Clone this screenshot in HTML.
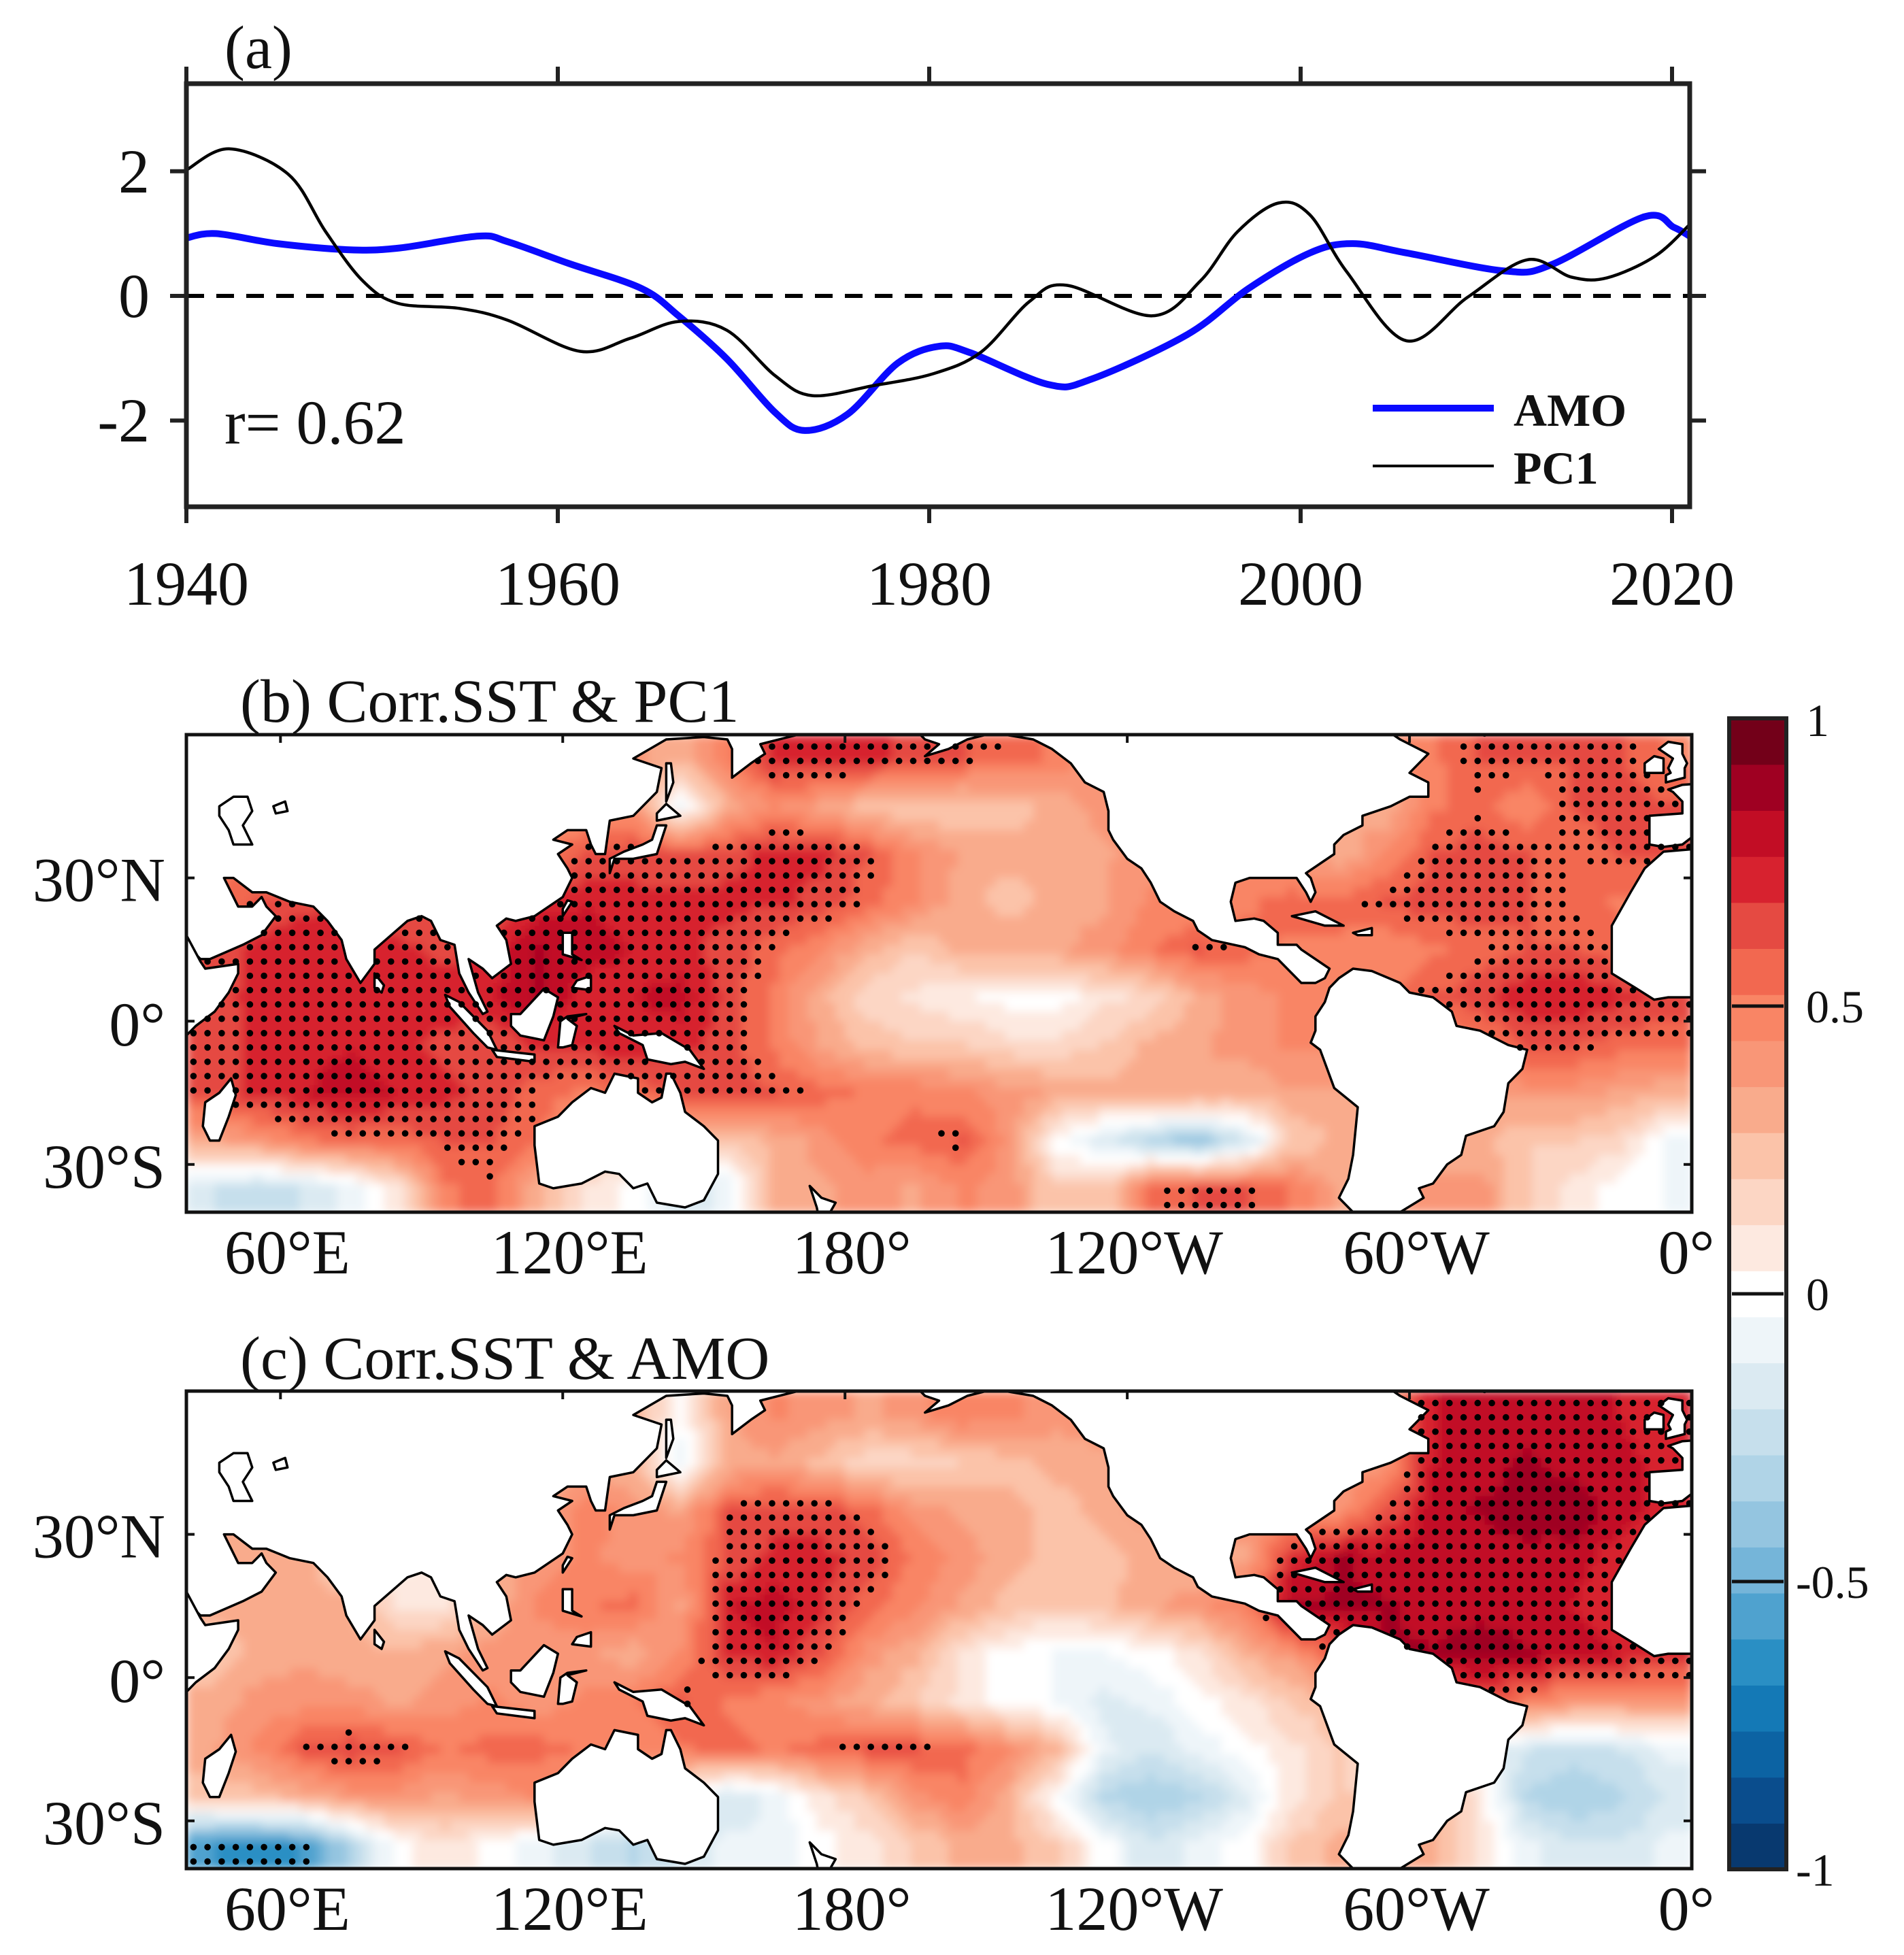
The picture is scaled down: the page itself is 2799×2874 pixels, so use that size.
<!DOCTYPE html>
<html><head><meta charset="utf-8"><style>
html,body{margin:0;padding:0;background:#fff}
svg{display:block}
text{font-family:"Liberation Serif",serif;fill:#111}
</style></head><body>
<svg id="fig" xmlns="http://www.w3.org/2000/svg" width="2799" height="2874" viewBox="0 0 2799 2874">
<defs>
<clipPath id="clipA"><rect x="274" y="123" width="2210" height="622"/></clipPath>
<clipPath id="clipB"><rect x="274" y="1080" width="2213" height="702"/></clipPath>
<clipPath id="clipC"><rect x="274" y="2045" width="2213" height="702"/></clipPath>
<filter id="soft" x="0" y="0" width="1" height="1"><feGaussianBlur stdDeviation="7" edgeMode="duplicate"/></filter>
</defs>
<g id="panelA"></g>
<g id="panelB" clip-path="url(#clipB)"></g>
<g id="panelC" clip-path="url(#clipC)"></g>
<g id="overlay"></g>
<g id="cbar"></g>
</svg>
<script>
// ---------- Panel (a) data ----------
const pc1Years=[1940,1942.3,1945.5,1947.5,1949.5,1951.4,1954.7,1957.3,1961.2,1963.9,1966.5,1969.1,1971.7,1973.7,1977,1980.2,1982.8,1985.4,1987.4,1992,1994.6,1996.6,1998.8,2000.5,2002.5,2005.7,2009,2012.2,2014.6,2016.5,2019.1,2021];
const pc1Values=[2.02,2.36,1.95,1.03,0.24,-0.12,-0.2,-0.39,-0.89,-0.68,-0.41,-0.55,-1.28,-1.6,-1.44,-1.25,-0.9,-0.09,0.17,-0.32,0.24,1.03,1.49,1.3,0.38,-0.72,-0.02,0.58,0.3,0.29,0.64,1.16];
const amoYears=[1940,1941.6,1944.9,1948.8,1951.5,1955.7,1957.3,1960.6,1964.5,1966.5,1969.1,1971.7,1973.3,1975.6,1978.3,1980.5,1982.2,1986.4,1988.7,1993.9,1997.2,2000.5,2002.8,2005.7,2011,2013.5,2018.5,2020.1,2021];
const amoValues=[0.93,1.0,0.84,0.74,0.77,0.96,0.87,0.52,0.12,-0.32,-1.01,-1.87,-2.16,-1.9,-1.08,-0.81,-0.91,-1.42,-1.34,-0.62,0.12,0.69,0.84,0.69,0.4,0.5,1.27,1.1,0.95];
const xTickYears=[1940,1960,1980,2000,2020];
const yTickValues=[-2,0,2];
const yTickLabels=["-2","0","2"];

// ---------- Maps data (rows: lat 55..-35, cols: lon 45..355 every 10) ----------
const gridLats=[55,45,35,25,15,5,-5,-15,-25,-35];
const gridLons=[45,55,65,75,85,95,105,115,125,135,145,155,165,175,185,195,205,215,225,235,245,255,265,275,285,295,305,315,325,335,345,355];
const corrPC1=[
[0.4,0.4,0.4,0.4,0.4,0.4,0.4,0.4,0.4,0.4,0.3,0.5,0.7,0.75,0.7,0.65,0.6,0.55,0.5,0.4,0.4,0.4,0.4,0.4,0.4,0.4,0.5,0.6,0.6,0.6,0.6,0.5],
[0.4,0.4,0.4,0.4,0.4,0.4,0.4,0.4,0.4,0.4,-0.05,0.3,0.45,0.35,0.25,0.2,0.2,0.25,0.3,0.4,0.4,0.4,0.4,0.4,0.4,0.3,0.5,0.55,0.45,0.6,0.65,0.6],
[0.5,0.5,0.5,0.5,0.5,0.5,0.5,0.5,0.6,0.65,0.6,0.65,0.7,0.7,0.6,0.45,0.35,0.3,0.3,0.35,0.4,0.4,0.4,0.4,0.3,0.45,0.6,0.65,0.6,0.55,0.6,0.6],
[0.5,0.6,0.65,0.7,0.6,0.6,0.6,0.7,0.75,0.7,0.7,0.7,0.7,0.65,0.55,0.45,0.3,0.25,0.3,0.35,0.45,0.45,0.5,0.55,0.55,0.6,0.65,0.65,0.6,0.55,0.5,0.5],
[0.6,0.7,0.75,0.7,0.7,0.65,0.7,0.85,0.8,0.75,0.7,0.65,0.55,0.45,0.3,0.2,0.3,0.35,0.35,0.4,0.5,0.6,0.55,0.5,0.5,0.45,0.5,0.55,0.6,0.6,0.55,0.5],
[0.65,0.7,0.75,0.75,0.7,0.75,0.75,0.85,0.7,0.75,0.8,0.65,0.5,0.3,0.15,0.1,0.05,0.0,0.0,0.1,0.15,0.3,0.4,0.45,0.5,0.5,0.6,0.65,0.75,0.75,0.7,0.65],
[0.6,0.7,0.75,0.75,0.7,0.65,0.6,0.7,0.7,0.75,0.7,0.65,0.5,0.35,0.25,0.2,0.2,0.15,0.15,0.2,0.3,0.35,0.4,0.45,0.45,0.4,0.4,0.5,0.6,0.6,0.55,0.55],
[0.6,0.7,0.75,0.8,0.75,0.7,0.65,0.55,0.5,0.55,0.6,0.65,0.6,0.55,0.5,0.5,0.45,0.4,0.35,0.3,0.35,0.35,0.3,0.35,0.35,0.35,0.35,0.35,0.4,0.4,0.35,0.3],
[0.35,0.4,0.5,0.55,0.55,0.6,0.6,0.55,0.3,0.3,0.3,0.2,0.3,0.4,0.5,0.55,0.6,0.4,0.0,-0.15,-0.3,-0.4,-0.2,0.2,0.3,0.3,0.3,0.3,0.2,0.2,0.15,-0.05],
[-0.2,-0.25,-0.2,-0.1,0.1,0.5,0.55,0.3,0.1,0.0,-0.2,-0.1,0.3,0.35,0.4,0.35,0.45,0.4,0.2,0.2,0.55,0.6,0.6,0.5,0.35,0.3,0.4,0.4,0.2,0.1,0.0,-0.05]];
const corrAMO=[
[0.3,0.3,0.3,0.3,0.3,0.3,0.3,0.3,0.3,0.3,0.0,0.35,0.45,0.4,0.35,0.4,0.5,0.45,0.4,0.4,0.4,0.4,0.4,0.4,0.4,0.4,0.75,0.8,0.8,0.8,0.75,0.7],
[0.3,0.3,0.3,0.3,0.3,0.3,0.3,0.3,0.3,0.3,-0.1,0.3,0.35,0.25,0.15,0.15,0.2,0.25,0.3,0.35,0.4,0.4,0.4,0.4,0.4,0.4,0.75,0.8,0.85,0.8,0.8,0.7],
[0.3,0.3,0.3,0.3,0.3,0.3,0.3,0.3,0.5,0.4,0.35,0.6,0.65,0.65,0.55,0.4,0.35,0.3,0.25,0.3,0.4,0.4,0.4,0.4,0.4,0.6,0.8,0.85,0.9,0.9,0.8,0.7],
[0.3,0.35,0.3,0.2,0.0,0.1,0.3,0.4,0.45,0.4,0.45,0.6,0.7,0.7,0.65,0.5,0.4,0.3,0.25,0.25,0.3,0.3,0.35,0.7,0.85,0.8,0.8,0.8,0.8,0.8,0.7,0.6],
[0.3,0.35,0.3,0.3,0.1,0.1,0.3,0.45,0.5,0.55,0.35,0.75,0.8,0.7,0.55,0.45,0.35,0.25,0.2,0.25,0.35,0.4,0.5,0.85,0.85,0.85,0.8,0.8,0.8,0.75,0.7,0.65],
[0.2,0.3,0.35,0.3,0.3,0.35,0.4,0.4,0.4,0.3,0.45,0.7,0.75,0.6,0.4,0.3,0.1,0.0,-0.05,-0.05,0.0,0.1,0.3,0.4,0.6,0.85,0.85,0.9,0.85,0.8,0.75,0.7],
[0.3,0.4,0.4,0.4,0.35,0.4,0.45,0.4,0.45,0.5,0.6,0.5,0.45,0.4,0.3,0.2,0.1,0.0,-0.05,-0.15,-0.1,0.0,0.1,0.2,0.3,0.4,0.5,0.6,0.5,0.4,0.4,0.4],
[0.35,0.45,0.6,0.65,0.6,0.5,0.55,0.55,0.5,0.45,0.5,0.55,0.5,0.55,0.6,0.6,0.55,0.45,0.3,-0.1,-0.2,-0.1,0.0,0.1,0.2,0.1,0.0,-0.1,-0.2,-0.25,-0.2,-0.1],
[0.2,0.25,0.3,0.4,0.4,0.35,0.4,0.45,0.3,0.2,0.0,-0.2,-0.1,0.1,0.2,0.4,0.5,0.3,0.0,-0.3,-0.35,-0.3,-0.15,0.1,0.2,0.2,0.3,0.1,-0.3,-0.35,-0.3,-0.2],
[-0.6,-0.65,-0.6,-0.3,0.0,0.1,0.0,-0.1,-0.2,-0.3,-0.2,-0.1,-0.1,0.0,0.1,0.2,0.3,0.3,0.2,0.0,-0.2,-0.1,0.0,0.2,0.3,0.3,0.3,0.1,-0.1,-0.2,-0.2,-0.1]];
const lonTickValues=[60,120,180,240,300,360];
const lonTickLabels=["60°E","120°E","180°","120°W","60°W","0°"];
const latTickValues=[30,0,-30];
const latTickLabels=["30°N","0°","30°S"];
const cbarLabels=["1","0.5","0","-0.5","-1"];
const cbarLabelValues=[1,0.5,0,-0.5,-1];

// land polygons [lon,lat]
const landPolys={
eurasia:[[40,16],[43,13],[45,13],[52,16],[56,18],[59,22],[57,24],[56,26],[54,24],[51,24],[50,26],[48,30],[50,30],[54,27],[57,27],[62,25],[67,24],[70,21],[73,17],[74,13],[77,8],[80,12],[80,15],[87,21],[90,22],[92,21],[94,17],[97,16],[98,10],[99,8],[100,6],[103,1.5],[104,2],[102,6],[100,13],[103,11],[105,9],[109,12],[108,17],[106,20],[108,21.5],[110,21],[114,22],[120,26],[122,30],[121,32],[119,35],[122,37],[118,38],[121,40],[125,40],[126,37],[127,35],[129,35],[130,42],[135,43],[140,48],[141,53],[138,54],[135,55],[142,59],[150,59.5],[155,59],[156,57],[156,51],[160,54],[163,56],[162,58],[170,60],[180,65],[40,65]],
horn:[[40,18],[43,12.5],[44,11],[51,12],[51,10],[49,6],[46,2],[42,-1],[40,-3]],
madagascar:[[49.5,-12],[50.5,-15.5],[49,-20],[47,-25],[45,-25],[43.5,-22],[44,-17],[47,-15]],
srilanka:[[80,10],[82,7.5],[81.5,6],[80,7]],
honshu:[[130,31],[131,34],[135,34],[140,35],[141,38],[142,41],[140,41],[139,38],[137,37],[133,35.5],[130,34]],
hokkaido:[[140,42],[145,43],[142,45.5],[140,43.5]],
sakhalin:[[142,46],[143.5,50],[143,54],[142,54],[142,48]],
taiwan:[[120,22],[122,25],[121,25.3],[120,23.5]],
luzon:[[120,18.5],[122,18.5],[122,14],[124,12.8],[120,14]],
mindanao:[[122,7],[126,6.5],[126,9.5],[123,8.5]],
borneo:[[109,1.5],[111,1.5],[116,6.8],[119,5],[118,1],[116,-4],[111,-3],[109,-1]],
sumatra:[[95,5.5],[98,4],[104,-2],[106,-6],[104,-5.5],[101,-2.5],[96,3]],
java:[[105,-6],[114,-7],[114,-8.5],[106,-7.5]],
sulawesi:[[119,-5.5],[119.5,0],[121,1],[125,1.5],[121,0.5],[123,-1],[122,-5],[120,-5.5]],
newguinea:[[131,-1],[135,-3],[141,-2.5],[147,-6],[150,-10],[146,-8.5],[143,-9],[138,-8],[137,-5],[132,-2.5]],
australia:[[114,-22],[114,-26],[115,-34],[118,-35],[124,-34],[129,-31.5],[132,-32],[135,-35],[138,-34],[140,-38],[146,-39],[150,-37.5],[153,-32],[153,-25],[150,-22],[146,-19],[145,-15],[143,-11],[142,-11],[141,-16],[139,-17],[136,-15],[136,-12],[131,-11],[129,-15],[126,-14],[122,-17],[119,-20]],
newzealand:[[172.5,-34.5],[175,-37],[178,-38],[176,-41.5],[174.5,-41.5],[174,-39]],
namerica:[[190,65],[195,61],[197,59],[200,58],[197,55.5],[202,57],[206,59],[210,60],[214,60],[220,59],[224,57],[228,54],[231,50],[235,48],[236,44],[236,40],[237,38],[240,34],[243,32],[245,29],[247,25],[250,23],[254,21],[255,19],[258,17],[265,15.5],[268,14],[272,13],[275,10],[277,8],[280,8],[282,9],[283,11],[277,15],[276,16],[272,16],[272,18.5],[269,21],[267,21.5],[263,21],[262,25],[263,29],[266,30],[271,30],[276,30],[278,27],[279,25],[280,27],[279,30],[278,31],[281,33],[284,35],[284,37],[286,39],[290,41],[290,43],[293,44],[296,45],[300,47],[304,47],[304,50],[300,52],[304,56],[298,59],[295,61],[300,65]],
greenland:[[312,65],[311,61],[316,59.8],[318,61],[322,65]],
cuba:[[275,22],[282,20],[286,20],[280,23]],
hispaniola:[[288,18.5],[292,19.5],[292,18],[289,18]],
samerica:[[290,-45],[288,-40],[285,-37],[287,-33],[288,-28],[289,-18],[284,-14],[281,-6],[279,-4.5],[280,-2],[280,1],[282,4],[283,7],[285,9],[288,11],[292,10.5],[298,8],[300,6],[305,5],[309,2],[310,-1],[315,-2],[321,-5],[325,-6],[324,-10],[321,-13],[320,-19],[318,-22],[312,-24],[311,-28],[308,-30],[305,-34],[302,-35],[303,-37],[298,-40],[295,-45]],
africa:[[365,3],[360,5],[355,5],[352,4.5],[348,7],[343,10],[343,14.5],[343,20],[347,27],[350,32],[354,35.5],[360,36],[365,36]],
iberia:[[365,38.5],[360,38.5],[358,37],[354,36.5],[351,37],[351,43],[358,43.5],[358,46],[356,48],[355,48.5],[358,49.5],[365,50]],
britain:[[354.5,50],[358.5,51],[358.5,53],[359,54],[358,56],[358,58],[355,58.5],[353,57],[356,55],[355,53],[355.5,52],[354.5,51.5]],
ireland:[[350,52],[354,52],[354,55],[352,55.5],[350,54]],
norway:[[355,65],[355,62],[360,60],[365,60],[365,65]]
};
const lakePolys={caspian:[[47,45],[50,47],[53,47],[54,44],[52,41],[54,37],[50,37],[49,40],[47,43]],aral:[[58.5,45],[61,46],[61.5,44],[59,43.5]]};

// ---------- helpers ----------
const NS="http://www.w3.org/2000/svg";
function mk(tag,attrs,parent){const e=document.createElementNS(NS,tag);for(const k in attrs)e.setAttribute(k,attrs[k]);parent.appendChild(e);return e;}

// Panel a scales
const A={x0:274,x1:2484,y0:123,y1:745,yr0:1940,yPerYear:27.3,yZero:435,yPerUnit:91.6};
function ax(year){return A.x0+(year-A.yr0)*A.yPerYear;}
function ay(v){return A.yZero-v*A.yPerUnit;}
function smoothPath(xs,ys){
  const p=xs.map((x,i)=>[x,ys[i]]);let d="M"+p[0][0].toFixed(1)+","+p[0][1].toFixed(1);
  for(let i=0;i<p.length-1;i++){const p0=p[i-1]||p[i],p1=p[i],p2=p[i+1],p3=p[i+2]||p2;
    const c1=[p1[0]+(p2[0]-p0[0])/6,p1[1]+(p2[1]-p0[1])/6],c2=[p2[0]-(p3[0]-p1[0])/6,p2[1]-(p3[1]-p1[1])/6];
    d+=" C"+c1[0].toFixed(1)+","+c1[1].toFixed(1)+" "+c2[0].toFixed(1)+","+c2[1].toFixed(1)+" "+p2[0].toFixed(1)+","+p2[1].toFixed(1);}
  return d;}

const pa=document.getElementById('panelA');
let zl=mk('line',{x1:A.x0,x2:A.x1,y1:ay(0),y2:ay(0),stroke:'#000','stroke-width':6,'stroke-dasharray':'26,18'},pa);


let gA=mk('g',{'clip-path':'url(#clipA)'},pa);
let amoPath=mk('path',{d:smoothPath(amoYears.map(ax),amoValues.map(ay)),fill:'none',stroke:'#0a0aff','stroke-width':10,'stroke-linejoin':'round'},gA);


let pcPath=mk('path',{d:smoothPath(pc1Years.map(ax),pc1Values.map(ay)),fill:'none',stroke:'#000','stroke-width':4.5},gA);


let frA=mk('rect',{x:A.x0,y:A.y0,width:A.x1-A.x0,height:A.y1-A.y0,fill:'none',stroke:'#222','stroke-width':7},pa);


xTickYears.forEach(yr=>{
  const x=ax(yr);
  mk('line',{x1:x,x2:x,y1:A.y0-25,y2:A.y0,stroke:'#222','stroke-width':6},pa);
  mk('line',{x1:x,x2:x,y1:A.y1,y2:A.y1+24,stroke:'#222','stroke-width':6},pa);
  const t=mk('text',{x:x,y:889,'font-size':92,'text-anchor':'middle'},pa);t.textContent=String(yr);
  
  
});
yTickValues.forEach((v,i)=>{
  const y=ay(v);
  mk('line',{x1:A.x0-24,x2:A.x0,y1:y,y2:y,stroke:'#222','stroke-width':6},pa);
  mk('line',{x1:A.x1,x2:A.x1+24,y1:y,y2:y,stroke:'#222','stroke-width':6},pa);
  const t=mk('text',{x:220,y:y+31,'font-size':92,'text-anchor':'end'},pa);t.textContent=yTickLabels[i];
  
  
});
let tA=mk('text',{x:330,y:100,'font-size':90},pa);tA.textContent='(a)';


let tR=mk('text',{x:330,y:652,'font-size':92},pa);tR.textContent='r= 0.62';


let lg=mk('g',{},pa);


mk('line',{x1:2018,x2:2196,y1:600,y2:600,stroke:'#0a0aff','stroke-width':10},lg);
let l1=mk('text',{x:2225,y:626,'font-size':68,'font-weight':'bold'},lg);l1.textContent='AMO';


mk('line',{x1:2018,x2:2196,y1:685,y2:685,stroke:'#000','stroke-width':4},lg);
let l2=mk('text',{x:2225,y:711,'font-size':68,'font-weight':'bold'},lg);l2.textContent='PC1';



// ---------- colormap ----------
const bandColors=['#08396f','#0a4d8d','#0c63a3','#1479b6','#2a8fc4','#4fa2cf','#75b5d9','#94c5e0','#b0d4e7','#c6dfec','#dbeaf2','#eef5f9','#ffffff','#fde9e0','#fcd6c4','#fbc3a9','#f9ab8c','#f99677','#f98565','#f26850','#e54a42','#d7222f','#c20d25','#9f0022','#730019'];
function colorOf(v){let k=Math.floor((v+1)/0.08);if(k<0)k=0;if(k>24)k=24;return bandColors[k];}

// ---------- map ----------
const M={x0:274,x1:2487,lon0:40,lon1:360,lat0:60,lat1:-40,h:702};
function mx(lon){return M.x0+(lon-M.lon0)*(M.x1-M.x0)/(M.lon1-M.lon0);}
function my(lat,top){return top+(M.lat0-lat)*M.h/(M.lat0-M.lat1);}
function sample(grid,lon,lat){
  let fi=(lon-gridLons[0])/10, fj=(gridLats[0]-lat)/10;
  fi=Math.max(0,Math.min(gridLons.length-1,fi)); fj=Math.max(0,Math.min(gridLats.length-1,fj));
  const i0=Math.floor(fi),j0=Math.floor(fj),i1=Math.min(i0+1,gridLons.length-1),j1=Math.min(j0+1,gridLats.length-1);
  const tx=fi-i0,ty=fj-j0;
  const a=grid[j0][i0]*(1-tx)+grid[j0][i1]*tx,b=grid[j1][i0]*(1-tx)+grid[j1][i1]*tx;
  return a*(1-ty)+b*ty;}
function inPoly(pt,poly){let c=false;for(let i=0,j=poly.length-1;i<poly.length;j=i++){const xi=poly[i][0],yi=poly[i][1],xj=poly[j][0],yj=poly[j][1];
  if(((yi>pt[1])!==(yj>pt[1]))&&(pt[0]<(xj-xi)*(pt[1]-yi)/(yj-yi)+xi))c=!c;}return c;}
function onLand(lon,lat){for(const k in landPolys){if(inPoly([lon,lat],landPolys[k]))return true;}return false;}
function drawMap(gid,grid,top,name){
  const g=document.getElementById(gid);
  const cells=mk('g',{'shape-rendering':'crispEdges',filter:'url(#soft)'},g);
  
  
  const step=2;
  for(let lat=60;lat>-40;lat-=step){for(let lon=40;lon<360;lon+=step){
    const v=sample(grid,lon+step/2,lat-step/2);
    const x=mx(lon),y=my(lat,top);
    mk('rect',{x:x.toFixed(1),y:y.toFixed(1),width:(mx(lon+step)-x+0.8).toFixed(1),height:(my(lat-step,top)-y+0.8).toFixed(1),fill:colorOf(v)},cells);
  }}
  const land=mk('g',{fill:'#fff',stroke:'#000','stroke-width':3.5,'stroke-linejoin':'round'},g);
  
  
  for(const k in landPolys){const p=mk('polygon',{points:landPolys[k].map(q=>mx(q[0]).toFixed(1)+','+my(q[1],top).toFixed(1)).join(' ')},land);
    
    }
  for(const k in lakePolys){const p=mk('polygon',{points:lakePolys[k].map(q=>mx(q[0]).toFixed(1)+','+my(q[1],top).toFixed(1)).join(' ')},land);
    
    }
  const dots=mk('g',{fill:'#000'},g);
  
  
  for(let lat=-38.5;lat<60;lat+=3){for(let lon=41.5;lon<360;lon+=3){
    const v=sample(grid,lon,lat);
    if(Math.abs(v)>=0.56&&!onLand(lon,lat)){mk('circle',{cx:mx(lon).toFixed(1),cy:my(lat,top).toFixed(1),r:4.8},dots);}
  }}
}
drawMap('panelB',corrPC1,1080,'map-b');
drawMap('panelC',corrAMO,2045,'map-c');

const ov=document.getElementById('overlay');
[[1080,1061,'(b) Corr.SST & PC1','panel-b-title'],[2045,2027,'(c) Corr.SST & AMO','panel-c-title']].forEach(([top,tb,title,nm])=>{
  const fr=mk('rect',{x:M.x0,y:top,width:M.x1-M.x0,height:M.h,fill:'none',stroke:'#111','stroke-width':5},ov);
  
  
  const tt=mk('text',{x:353,y:tb,'font-size':90},ov);tt.textContent=title;
  
  
  lonTickValues.forEach((lon,i)=>{
    const x=mx(lon);
    mk('line',{x1:x,x2:x,y1:top,y2:top+12,stroke:'#111','stroke-width':4},ov);
    const t=mk('text',{x:x+(i===5?-8:10),y:top+792,'font-size':92,'text-anchor':'middle'},ov);t.textContent=lonTickLabels[i];
    
    
  });
  latTickValues.forEach((lat,i)=>{
    const y=my(lat,top);
    mk('line',{x1:M.x0,x2:M.x0+12,y1:y,y2:y,stroke:'#111','stroke-width':4},ov);
    mk('line',{x1:M.x1-12,x2:M.x1,y1:y,y2:y,stroke:'#111','stroke-width':4},ov);
    const t=mk('text',{x:243,y:y+(i===1?36:34),'font-size':92,'text-anchor':'end'},ov);t.textContent=latTickLabels[i];
    
    
  });
});

const CB={x:2542,w:84,y0:1056,y1:2748};
function cy(v){return CB.y0+(1-v)/2*(CB.y1-CB.y0);}
const cb=document.getElementById('cbar');
bandColors.forEach((c,k)=>{
  const lo=-1+k*0.08,hi=lo+0.08;
  const r=mk('rect',{x:CB.x,y:cy(hi).toFixed(1),width:CB.w,height:(cy(lo)-cy(hi)+0.6).toFixed(1),fill:c},cb);
  
  
});
mk('rect',{x:CB.x,y:CB.y0,width:CB.w,height:CB.y1-CB.y0,fill:'none',stroke:'#222','stroke-width':6},cb);
cbarLabelValues.forEach((v,i)=>{
  const y=cy(v);
  if(Math.abs(v)<1) mk('line',{x1:CB.x+4,x2:CB.x+CB.w-4,y1:y,y2:y,stroke:'#111','stroke-width':5},cb);
  const t=mk('text',{x:v<0?2640:2655,y:y+(v===1?26:24),'font-size':68},cb);t.textContent=cbarLabels[i];
  
  
});
</script>
</body></html>
